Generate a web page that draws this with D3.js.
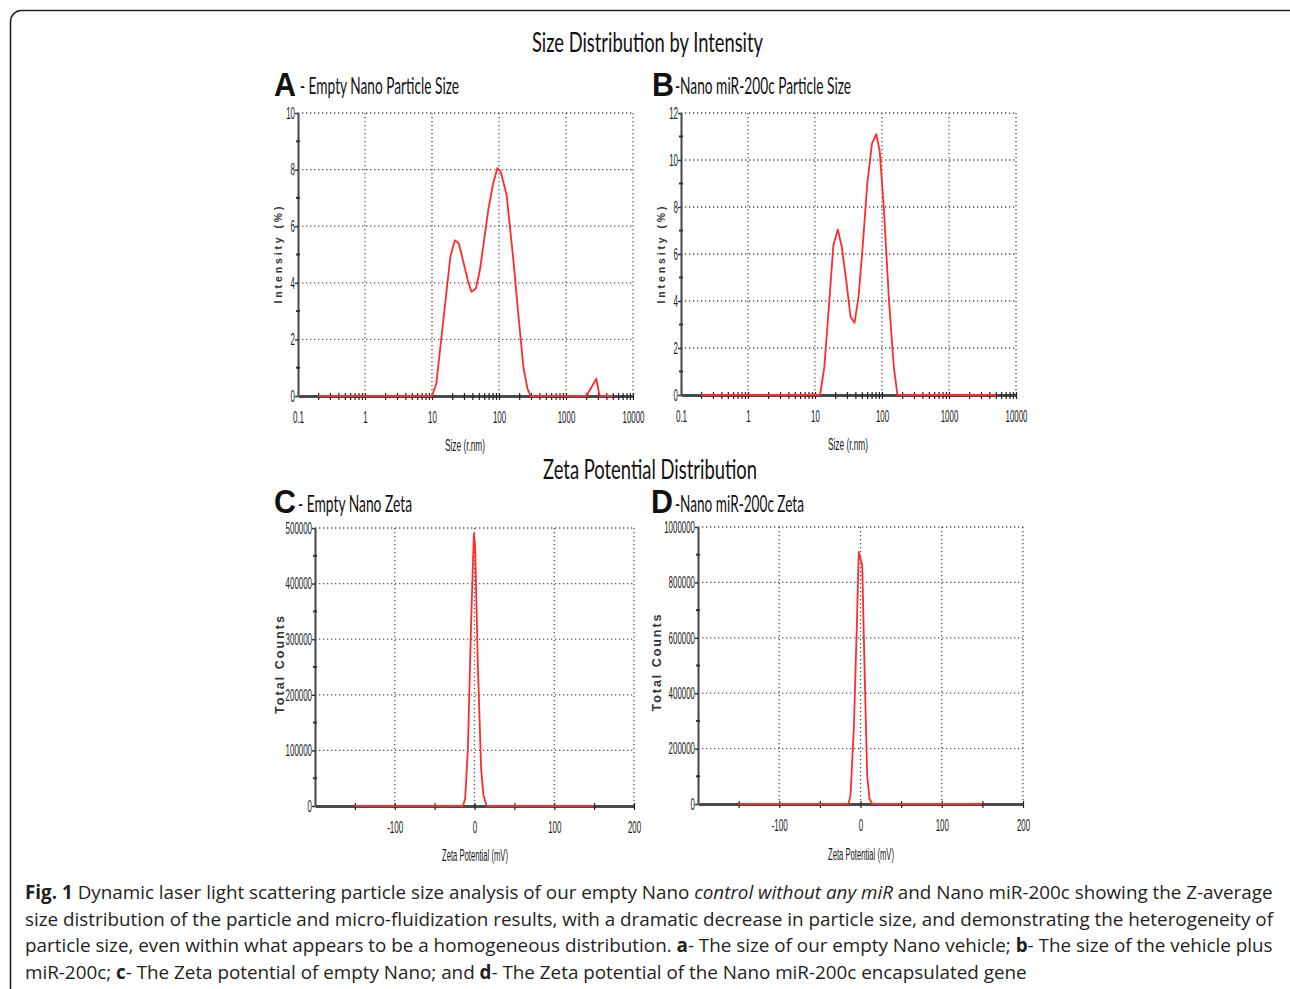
<!DOCTYPE html>
<html lang="en">
<head>
<meta charset="UTF-8">
<title>Fig. 1 - DLS size and zeta potential</title>
<script src="https://d3js.org/d3.v7.min.js"></script>
<style>
  body { margin: 0; background: #fff; }
  svg { display: block; }
  .grid line { stroke: #555; stroke-width: 1.3; stroke-dasharray: 1.3 2.7; }
  .num { font-family: "Liberation Sans", Arial, sans-serif; fill: #1a1a1a; }
  .ytitle { font-family: "Liberation Sans", Arial, sans-serif; font-weight: bold; fill: #333; }
  .head { font-family: Lato, "Open Sans", sans-serif; fill: #111; }
  .letter { font-family: "Liberation Sans", Arial, sans-serif; font-weight: bold; font-size: 33px; fill: #111; }
  .cap { font-family: "Open Sans", sans-serif; fill: #231f20; }
</style>
</head>
<body>
<svg id="fig" width="1290" height="989"></svg>
<script>
// ---------- values ----------
// A - empty nano, size (r.nm) vs intensity (%)
var sizeA      = [0.2, 10, 11.6, 18.8, 21.9, 25.1, 34.7, 38.9, 45.2, 51.9, 69.2, 82, 94.4, 106, 130, 164, 194, 231, 266, 298, 2019, 2832, 3170, 5000];
var intensityA = [0,   0,  0.44, 4.92, 5.5,  5.4,  4.04, 3.68, 3.8,  4.45, 6.58, 7.52, 8.05, 7.93, 7.1, 4.8, 2.9, 1.03, 0.26, 0, 0, 0.61, 0, 0];

// B - nano miR-200c, size vs intensity
var sizeB      = [0.2, 11.9, 13.8, 16.4, 18.8, 21.9, 25.1, 29.2, 33.9, 38.9, 44.7, 51.9, 60.3, 70.8, 82.2, 92.3, 107, 127, 150, 170, 5000];
var intensityB = [0,   0,    1.2,  4.04, 6.37, 7.04, 6.3,  4.89, 3.33, 3.07, 4.18, 6.44, 9.0,  10.7, 11.1, 10.4, 7.86, 4.04, 1.2, 0, 0];

// C - empty nano, zeta potential (mV) vs total counts
var zetaC   = [-150, -14.6, -11.7, -8.3,   -4.2,   -0.8,   0.8,    4.2,    8.3,   11.2,  15.4, 150];
var countsC = [0,    0,     13000, 103000, 331000, 490000, 469000, 253000, 67000, 19000, 0,    0];

// D - nano miR-200c, zeta potential vs total counts
var zetaD   = [-150, -14.8, -12.3, -8.2,   -4.5,   -2.1,   2.1,    4.9,    8.2,    11.1,  14.4, 150];
var countsD = [0,    0,     31000, 272000, 645000, 910000, 862000, 500000, 103000, 19000, 0,    0];

// tick labels
var sizeTicks  = [0.1, 1, 10, 100, 1000, 10000];
var zetaTicks  = [-100, 0, 100, 200];
var zetaMinor  = [-150, -100, -50, 0, 50, 100, 150, 200];
var yTicksA = [0, 2, 4, 6, 8, 10];
var yTicksB = [0, 2, 4, 6, 8, 10, 12];
var yTicksC = [0, 100000, 200000, 300000, 400000, 500000];
var yTicksD = [0, 200000, 400000, 600000, 800000, 1000000];

var captionLines = [
  [["b", "Fig. 1"], ["n", " Dynamic laser light scattering particle size analysis of our empty Nano "], ["i", "control without any miR"], ["n", " and Nano miR-200c showing the Z-average"]],
  [["n", "size distribution of the particle and micro-fluidization results, with a dramatic decrease in particle size, and demonstrating the heterogeneity of"]],
  [["n", "particle size, even within what appears to be a homogeneous distribution. "], ["b", "a"], ["n", "- The size of our empty Nano vehicle; "], ["b", "b"], ["n", "- The size of the vehicle plus"]],
  [["n", "miR-200c; "], ["b", "c"], ["n", "- The Zeta potential of empty Nano; and "], ["b", "d"], ["n", "- The Zeta potential of the Nano miR-200c encapsulated gene"]]
];

var svg = d3.select("#fig");

// outer frame
svg.append("rect")
  .attr("x", 10.5).attr("y", 10.5)
  .attr("width", 1300).attr("height", 1010)
  .attr("rx", 11)
  .style("fill", "none").style("stroke", "#222").style("stroke-width", 1.6);

// squeeze the narrow instrument font
function narrow(sel) {
  sel.each(function() {
    var t = this.textContent, w = 0;
    for (var i = 0; i < t.length; i++) {
      var c = t[i];
      w += (c == "." ? 2.4 : c == "-" ? 3 : 4.4);
    }
    d3.select(this)
      .attr("textLength", w).attr("lengthAdjust", "spacingAndGlyphs")
      .style("font-size", "16.5px").style("font-family", null);
  });
}

function drawPanel(p) {
  var g = svg.append("g");
  var x = (p.log ? d3.scaleLog() : d3.scaleLinear()).domain(p.xDomain).range([p.left, p.right]);
  var y = d3.scaleLinear().domain([0, p.yTicks[p.yTicks.length - 1]]).range([p.bottom, p.top]);

  // dotted grid
  var grid = g.append("g").attr("class", "grid");
  grid.selectAll("line.h").data(p.yTicks.slice(1)).enter().append("line")
    .attr("x1", p.left).attr("x2", p.right)
    .attr("y1", function(d) { return y(d); }).attr("y2", function(d) { return y(d); });
  grid.selectAll("line.v").data(p.xGrid).enter().append("line")
    .attr("y1", p.top).attr("y2", p.bottom)
    .attr("x1", function(d) { return x(d); }).attr("x2", function(d) { return x(d); });

  // x axis: thick baseline + labels
  var xAxis = g.append("g")
    .attr("transform", "translate(0," + p.bottom + ")")
    .call(d3.axisBottom(x).tickValues(p.xLabels).tickSize(0).tickSizeOuter(0).tickPadding(15)
      .tickFormat(function(d) { return String(d); }));
  xAxis.select(".domain").style("stroke", "#4a4a4a").style("stroke-width", 3);
  xAxis.selectAll("text").attr("class", "num").call(narrow);

  // short tick marks across the baseline
  g.append("g")
    .attr("transform", "translate(0," + (p.bottom - 3) + ")")
    .call(d3.axisBottom(x).tickValues(p.xMinor).tickSize(7).tickFormat(""))
    .call(function(a) {
      a.select(".domain").remove();
      a.selectAll("line").style("stroke", "#222").style("stroke-width", 1.2);
    });

  // the curve
  var line = d3.line()
    .x(function(d) { return x(d[0]); })
    .y(function(d) { return y(d[1]); });
  g.append("path")
    .datum(d3.zip(p.xs, p.ys))
    .attr("d", line)
    .style("fill", "none").style("stroke", "#ff2b2b").style("stroke-width", 1.8)
    .style("stroke-linejoin", "round");

  // y axis
  var yAxis = g.append("g")
    .attr("transform", "translate(" + p.left + ",0)")
    .call(d3.axisLeft(y).tickValues(p.yTicks).tickSize(3).tickSizeOuter(0).tickPadding(0)
      .tickFormat(function(d) { return String(d); }));
  yAxis.select(".domain").style("stroke", "#444").style("stroke-width", 2);
  yAxis.selectAll("line").style("stroke", "#333").style("stroke-width", 1.5);
  yAxis.selectAll("text").attr("class", "num").call(narrow);

  // minor dots on the y axis
  var yMinor = p.yTicks.slice(1).map(function(v, i) { return (v + p.yTicks[i]) / 2; });
  g.append("g").selectAll("line").data(yMinor).enter().append("line")
    .attr("x1", p.left - 2).attr("x2", p.left + 2)
    .attr("y1", function(d) { return y(d); }).attr("y2", function(d) { return y(d); })
    .style("stroke", "#333").style("stroke-width", 2);

  // axis titles
  g.append("text")
    .attr("class", "num")
    .attr("x", p.xTitleX).attr("y", p.xTitleY)
    .attr("text-anchor", "middle")
    .style("font-size", "16px")
    .attr("textLength", p.xTitleW).attr("lengthAdjust", "spacingAndGlyphs")
    .text(p.xTitle);
  g.append("text")
    .attr("class", "ytitle")
    .attr("transform", "translate(" + p.yTitleX + "," + p.yTitleY + ") rotate(-90)")
    .attr("text-anchor", "middle")
    .style("font-size", p.yTitleSize + "px")
    .attr("textLength", p.yTitleW).attr("lengthAdjust", "spacing")
    .text(p.yTitle);
}

function sizeMinor() {
  return d3.scaleLog().domain([0.1, 10000]).ticks().filter(function(v) { return v >= 0.2; });
}

drawPanel({
  log: true, xDomain: [0.1, 10000], left: 298, right: 633, top: 113, bottom: 396,
  xs: sizeA, ys: intensityA, yTicks: yTicksA, xLabels: sizeTicks, xGrid: sizeTicks.slice(1), xMinor: sizeMinor(),
  xTitle: "Size (r.nm)", xTitleX: 465, xTitleY: 451, xTitleW: 40,
  yTitle: "Intensity (%)", yTitleX: 282, yTitleY: 255, yTitleSize: 10.5, yTitleW: 97
});
drawPanel({
  log: true, xDomain: [0.1, 10000], left: 681, right: 1016, top: 113, bottom: 395,
  xs: sizeB, ys: intensityB, yTicks: yTicksB, xLabels: sizeTicks, xGrid: sizeTicks.slice(1), xMinor: sizeMinor(),
  xTitle: "Size (r.nm)", xTitleX: 848, xTitleY: 450, xTitleW: 40,
  yTitle: "Intensity (%)", yTitleX: 665, yTitleY: 255, yTitleSize: 10.5, yTitleW: 97
});
drawPanel({
  log: false, xDomain: [-200, 200], left: 315, right: 634, top: 528, bottom: 806,
  xs: zetaC, ys: countsC, yTicks: yTicksC, xLabels: zetaTicks, xGrid: zetaTicks, xMinor: zetaMinor,
  xTitle: "Zeta Potential (mV)", xTitleX: 475, xTitleY: 861, xTitleW: 66,
  yTitle: "Total Counts", yTitleX: 284, yTitleY: 665, yTitleSize: 12.5, yTitleW: 98
});
drawPanel({
  log: false, xDomain: [-200, 200], left: 698, right: 1023, top: 527, bottom: 804,
  xs: zetaD, ys: countsD, yTicks: yTicksD, xLabels: zetaTicks, xGrid: zetaTicks, xMinor: zetaMinor,
  xTitle: "Zeta Potential (mV)", xTitleX: 861, xTitleY: 860, xTitleW: 66,
  yTitle: "Total Counts", yTitleX: 661, yTitleY: 663, yTitleSize: 12.5, yTitleW: 97
});

// headings
function head(txt, x, y, size, w, anchor) {
  svg.append("text").attr("class", "head")
    .attr("x", x).attr("y", y)
    .attr("text-anchor", anchor || "start")
    .style("font-size", size + "px")
    .attr("textLength", w).attr("lengthAdjust", "spacingAndGlyphs")
    .text(txt);
}
head("Size Distribution by Intensity", 647.5, 52, 27, 231, "middle");
head("Zeta Potential Distribution", 650, 479, 27, 214, "middle");
head("- Empty Nano Particle Size", 300, 94, 24, 159);
head("-Nano miR-200c Particle Size", 675, 94, 24, 176);
head("- Empty Nano Zeta", 298, 512, 24, 114);
head("-Nano miR-200c Zeta", 675, 512, 24, 129);

[["A", 274, 96], ["B", 652, 96], ["C", 274, 513], ["D", 651, 513]].forEach(function(l) {
  svg.append("text").attr("class", "letter")
    .attr("x", l[1]).attr("y", l[2])
    .attr("textLength", 22).attr("lengthAdjust", "spacingAndGlyphs")
    .text(l[0]);
});

// caption
var capSize = 18;
var capLines = svg.append("g").selectAll("text").data(captionLines).enter().append("text")
  .attr("class", "cap")
  .attr("x", 25)
  .attr("y", function(d, i) { return 899 + i * 26.5; })
  .style("font-size", capSize + "px");
capLines.selectAll("tspan").data(function(d) { return d; }).enter().append("tspan")
  .style("font-weight", function(d) { return d[0] == "b" ? "bold" : null; })
  .style("font-style", function(d) { return d[0] == "i" ? "italic" : null; })
  .text(function(d) { return d[1]; });
// fit the first line to the text block width
var natural = capLines.node().getComputedTextLength();
capLines.style("font-size", (capSize * 1248 / natural) + "px");
</script>
</body>
</html>
